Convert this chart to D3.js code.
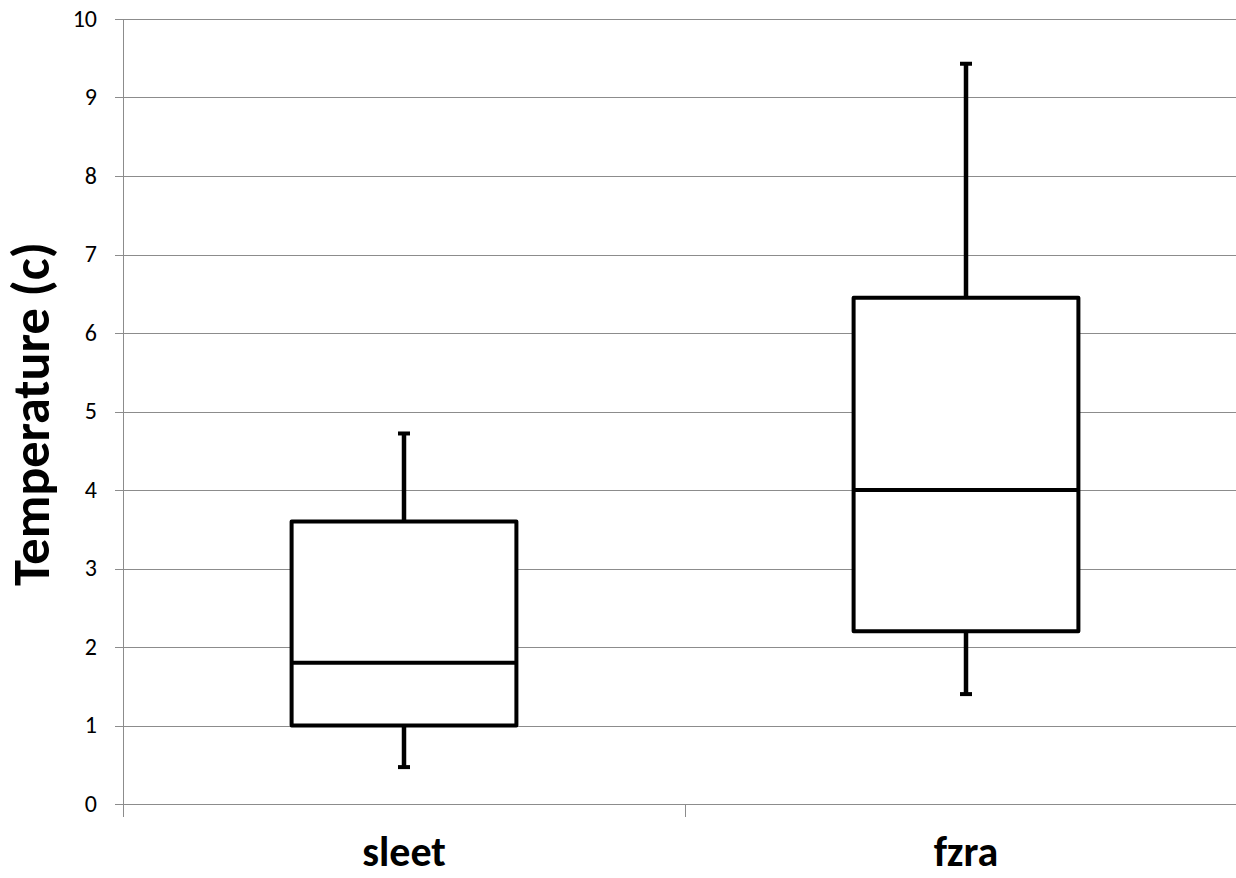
<!DOCTYPE html>
<html>
<head>
<meta charset="utf-8">
<script src="https://cdn.jsdelivr.net/npm/d3@7"></script>
<style>
  html, body { margin: 0; padding: 0; background: #fff; }
  svg { display: block; font-family: Carlito, "Open Sans", sans-serif; }
</style>
</head>
<body>
<div id="chart"></div>
<script>
// Daten
const categories = ["sleet", "fzra"];
const minValues = [0.47, 1.40];
const q1Values = [1.0, 2.2];
const medianValues = [1.8, 4.0];
const q3Values = [3.6, 6.45];
const maxValues = [4.72, 9.43];
const yTicks = [0, 1, 2, 3, 4, 5, 6, 7, 8, 9, 10];
const yTitle = "Temperature (c)";

const width = 1236, height = 878;
const margin = { top: 19, left: 123, bottom: 74, right: -11 };
const plotRight = width - margin.right;
const plotBottom = height - margin.bottom;

const svg = d3.select("#chart").append("svg")
  .attr("width", width)
  .attr("height", height);

const x = d3.scaleBand()
  .domain(categories)
  .range([margin.left, plotRight])
  .padding(0);

const y = d3.scaleLinear()
  .domain([0, 10])
  .range([plotBottom, margin.top]);

const gridColor = "#8c8c8c";

// horizontale Gitterlinien
svg.append("g")
  .selectAll("line")
  .data(yTicks)
  .enter()
  .append("line")
  .attr("x1", margin.left - 8)
  .attr("x2", plotRight)
  .attr("y1", d => Math.round(y(d)) + 0.5)
  .attr("y2", d => Math.round(y(d)) + 0.5)
  .attr("stroke", gridColor)
  .attr("stroke-width", 1);

// y-Achse
svg.append("line")
  .attr("x1", margin.left + 0.5).attr("x2", margin.left + 0.5)
  .attr("y1", margin.top).attr("y2", plotBottom + 13)
  .attr("stroke", gridColor);

// Tick-Beschriftungen y
svg.append("g")
  .selectAll("text")
  .data(yTicks)
  .enter()
  .append("text")
  .attr("x", 97)
  .attr("y", d => y(d))
  .attr("dy", "0.32em")
  .attr("text-anchor", "end")
  .style("font-size", "24px")
  .style("fill", "#000")
  .text(d => d);

// Kategorie-Ticks an den Bandgrenzen
const bounds = categories.map(c => x(c)).concat([x(categories[categories.length - 1]) + x.bandwidth()]);
svg.append("g")
  .selectAll("line")
  .data(bounds)
  .enter()
  .append("line")
  .attr("x1", d => Math.round(d) + 0.5)
  .attr("x2", d => Math.round(d) + 0.5)
  .attr("y1", plotBottom)
  .attr("y2", plotBottom + 13)
  .attr("stroke", gridColor);

// Kategorie-Beschriftungen
svg.append("g")
  .selectAll("text")
  .data(categories)
  .enter()
  .append("text")
  .attr("x", d => x(d) + x.bandwidth() / 2)
  .attr("y", 866)
  .attr("text-anchor", "middle")
  .style("font-size", "42px")
  .style("font-weight", "bold")
  .style("fill", "#000")
  .text(d => d);

// y-Achsentitel
svg.append("text")
  .attr("transform", `translate(49, ${(242 + 586) / 2}) rotate(-90)`)
  .attr("text-anchor", "middle")
  .attr("textLength", 344)
  .attr("lengthAdjust", "spacingAndGlyphs")
  .style("font-size", "52px")
  .style("font-weight", "bold")
  .style("fill", "#000")
  .text(yTitle);

// Boxplots
const boxW = x.bandwidth() * 0.4;
const capW = 12;
const boxes = categories.map((c, i) => ({
  cat: c, min: minValues[i], q1: q1Values[i], med: medianValues[i], q3: q3Values[i], max: maxValues[i]
}));

const g = svg.append("g")
  .selectAll("g")
  .data(boxes)
  .enter()
  .append("g");

const cx = d => x(d.cat) + x.bandwidth() / 2;

// Whisker
g.append("line")
  .attr("x1", cx).attr("x2", cx)
  .attr("y1", d => y(d.q3)).attr("y2", d => y(d.max))
  .attr("stroke", "#000").attr("stroke-width", 4.5);
g.append("line")
  .attr("x1", cx).attr("x2", cx)
  .attr("y1", d => y(d.q1)).attr("y2", d => y(d.min))
  .attr("stroke", "#000").attr("stroke-width", 4.5);

// Whisker-Enden
g.selectAll("line.cap")
  .data(d => [{ d, v: d.max }, { d, v: d.min }])
  .enter()
  .append("line")
  .attr("class", "cap")
  .attr("x1", e => cx(e.d) - capW / 2)
  .attr("x2", e => cx(e.d) + capW / 2)
  .attr("y1", e => y(e.v))
  .attr("y2", e => y(e.v))
  .attr("stroke", "#000").attr("stroke-width", 4);

// Box
g.append("rect")
  .attr("x", d => cx(d) - boxW / 2)
  .attr("width", boxW)
  .attr("y", d => y(d.q3))
  .attr("height", d => y(d.q1) - y(d.q3))
  .attr("fill", "#fff")
  .attr("stroke", "#000")
  .attr("stroke-width", 4)
  .attr("stroke-linejoin", "round");

// Median
g.append("line")
  .attr("x1", d => cx(d) - boxW / 2)
  .attr("x2", d => cx(d) + boxW / 2)
  .attr("y1", d => y(d.med))
  .attr("y2", d => y(d.med))
  .attr("stroke", "#000").attr("stroke-width", 4);
</script>
</body>
</html>
